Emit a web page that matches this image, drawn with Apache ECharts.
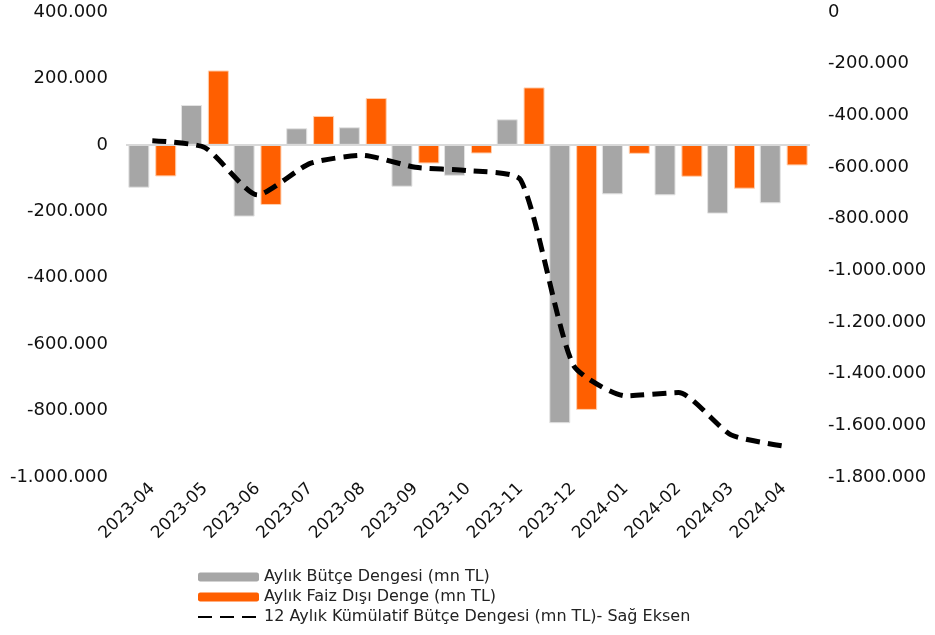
<!DOCTYPE html>
<html>
<head>
<meta charset="utf-8">
<script src="https://cdn.jsdelivr.net/npm/echarts@6/dist/echarts.min.js"></script>
<style>
  html, body { margin: 0; padding: 0; background: #fff; }
  #chart { width: 935px; height: 635px; }
</style>
</head>
<body>
<div id="chart"></div>
<script>
const months = ["2023-04", "2023-05", "2023-06", "2023-07", "2023-08", "2023-09", "2023-10",
  "2023-11", "2023-12", "2024-01", "2024-02", "2024-03", "2024-04"];
const butceDengesi = [-129000, 120000, -216000, 50000, 53000, -126000, -93000,
  77000, -838000, -149000, -152000, -207000, -176000];
const faizDisiDenge = [-95000, 224000, -181000, 87000, 141000, -56000, -26000,
  173000, -798000, -27000, -96000, -132000, -62000];
const kumulatif = [-498000, -525000, -708000, -586000, -555000, -601000, -614000,
  -650000, -1366000, -1486000, -1473000, -1637000, -1680000];

const FONT = "DejaVu Sans";

// 1.000.000 style thousands separators
function fmt(v) {
  const s = Math.abs(v).toString().replace(/\B(?=(\d{3})+(?!\d))/g, ".");
  return (v < 0 ? "-" : "") + s;
}

const chart = echarts.init(document.getElementById("chart"));
chart.setOption({
  animation: false,
  backgroundColor: "#fff",
  textStyle: { fontFamily: FONT },
  grid: { left: 126, right: 125, top: 12, bottom: 158, containLabel: false },
  legend: {
    orient: "vertical",
    left: 192,
    top: 564,
    itemWidth: 61,
    itemHeight: 9,
    itemGap: 4,
    itemStyle: { borderWidth: 0 },
    textStyle: { fontFamily: FONT, fontSize: 16, color: "#222" },
    data: [
      "Aylık Bütçe Dengesi (mn TL)",
      "Aylık Faiz Dışı Denge (mn TL)",
      { name: "12 Aylık Kümülatif Bütçe Dengesi (mn TL)- Sağ Eksen", itemStyle: { opacity: 0 } }
    ]
  },
  xAxis: {
    type: "category",
    data: months,
    axisLine: { show: false },
    axisTick: { show: false },
    axisLabel: { rotate: 45, fontFamily: FONT, fontSize: 17, color: "#111", margin: 9 }
  },
  yAxis: [
    {
      type: "value",
      min: -1000000,
      max: 400000,
      interval: 200000,
      splitLine: { show: false },
      axisLine: { show: false },
      axisTick: { show: false },
      axisLabel: { fontFamily: FONT, fontSize: 18, color: "#111", margin: 18, formatter: fmt }
    },
    {
      type: "value",
      min: -1800000,
      max: 0,
      interval: 200000,
      splitLine: { show: false },
      axisLine: { show: false },
      axisTick: { show: false },
      axisLabel: { fontFamily: FONT, fontSize: 18, color: "#111", margin: 18, formatter: fmt }
    }
  ],
  series: [
    {
      name: "Aylık Bütçe Dengesi (mn TL)",
      type: "bar",
      data: butceDengesi,
      barWidth: 21,
      barGap: "28%",
      itemStyle: { color: "#a6a6a6", borderColor: "#e3e3e3", borderWidth: 1 },
      markLine: {
        silent: true,
        symbol: "none",
        label: { show: false },
        lineStyle: { color: "#d9d9d9", width: 2, type: "solid" },
        data: [{ yAxis: 0 }]
      }
    },
    {
      name: "Aylık Faiz Dışı Denge (mn TL)",
      type: "bar",
      data: faizDisiDenge,
      barWidth: 21,
      itemStyle: { color: "#ff5f00", borderColor: "#ffd0b0", borderWidth: 1 }
    },
    {
      name: "12 Aylık Kümülatif Bütçe Dengesi (mn TL)- Sağ Eksen",
      type: "line",
      yAxisIndex: 1,
      data: kumulatif,
      smooth: 0.2,
      symbol: "none",
      z: 5,
      itemStyle: { color: "#000" },
      lineStyle: { color: "#000", width: 5, type: [14, 8] }
    }
  ]
});
</script>
</body>
</html>
